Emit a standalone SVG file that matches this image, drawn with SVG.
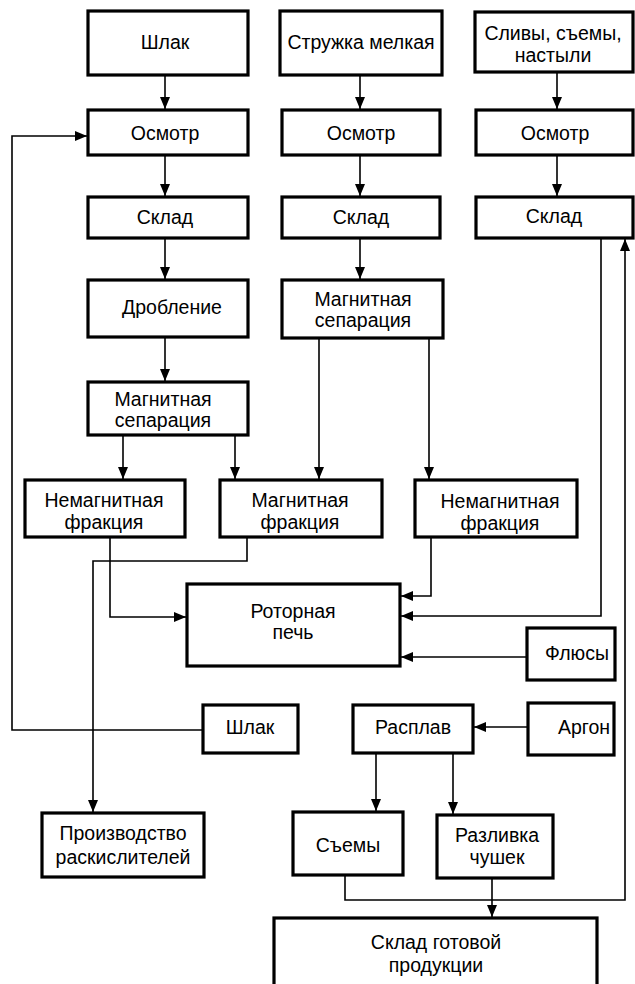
<svg xmlns="http://www.w3.org/2000/svg" width="635" height="984" viewBox="0 0 635 984">
  <style>
    .box { fill: #ffffff; stroke: #000000; stroke-width: 3.2; }
    .lbl { font-family: "Liberation Sans", Arial, sans-serif; font-size: 19.5px; fill: #000000; text-anchor: middle; }
    .wire { fill: none; stroke: #000000; stroke-width: 1.6; }
  </style>
  <defs>
    <marker id="arrow" markerUnits="userSpaceOnUse" markerWidth="12" markerHeight="10" refX="12" refY="5" orient="auto">
      <path d="M0,0 L12,5 L0,10 z" fill="#000000"/>
    </marker>
  </defs>
  <rect width="635" height="984" fill="#ffffff"/>

  <!-- connectors -->
  <g id="connectors" class="wire" marker-end="url(#arrow)">
    <path d="M165,75 V109"/>
    <path d="M360,75 V109"/>
    <path d="M557,72 V109"/>
    <path d="M165,155 V196"/>
    <path d="M360,155 V196"/>
    <path d="M557,155 V196"/>
    <path d="M165,238 V279"/>
    <path d="M360,238 V279"/>
    <path d="M165,337 V381"/>
    <path d="M123,435 V479"/>
    <path d="M235,435 V479"/>
    <path d="M319,338 V479"/>
    <path d="M429,338 V479"/>
    <path d="M110,537 V617 H186"/>
    <path d="M247,537 V561 H93 V812"/>
    <path d="M431,537 V596 H401"/>
    <path d="M601,238 V616 H401"/>
    <path d="M527,657 H401"/>
    <path d="M203,730 H12 V136 H87"/>
    <path d="M528,727 H474"/>
    <path d="M376,753 V811"/>
    <path d="M453,753 V814"/>
    <path d="M345,875 V900 H625 V239"/>
    <path d="M492,878 V917"/>
  </g>

  <!-- column 1 -->
  <g id="shlak-in"><rect class="box" x="88" y="11" width="160" height="64"/><text class="lbl" x="165" y="49">Шлак</text></g>
  <g id="osmotr-1"><rect class="box" x="88" y="110" width="160" height="45"/><text class="lbl" x="165" y="140">Осмотр</text></g>
  <g id="sklad-1"><rect class="box" x="88" y="197" width="160" height="41"/><text class="lbl" x="165" y="224">Склад</text></g>
  <g id="droblenie"><rect class="box" x="88" y="280" width="160" height="57"/><text class="lbl" x="172" y="314">Дробление</text></g>
  <g id="magsep-1"><rect class="box" x="88" y="382" width="160" height="53"/><text class="lbl" x="163" y="406">Магнитная</text><text class="lbl" x="163" y="427">сепарация</text></g>
  <g id="nemag-1"><rect class="box" x="25" y="480" width="160" height="57"/><text class="lbl" x="104" y="507">Немагнитная</text><text class="lbl" x="104" y="529">фракция</text></g>
  <g id="mag"><rect class="box" x="220" y="480" width="162" height="57"/><text class="lbl" x="300" y="507">Магнитная</text><text class="lbl" x="300" y="529">фракция</text></g>

  <!-- column 2 -->
  <g id="struzhka"><rect class="box" x="280" y="11" width="162" height="64"/><text class="lbl" x="361" y="49">Стружка мелкая</text></g>
  <g id="osmotr-2"><rect class="box" x="282" y="110" width="158" height="45"/><text class="lbl" x="361" y="140">Осмотр</text></g>
  <g id="sklad-2"><rect class="box" x="282" y="197" width="158" height="41"/><text class="lbl" x="361" y="224">Склад</text></g>
  <g id="magsep-2"><rect class="box" x="282" y="280" width="161" height="58"/><text class="lbl" x="363" y="306">Магнитная</text><text class="lbl" x="363" y="327">сепарация</text></g>
  <g id="nemag-2"><rect class="box" x="415" y="480" width="162" height="57"/><text class="lbl" x="500" y="508">Немагнитная</text><text class="lbl" x="500" y="530">фракция</text></g>

  <!-- column 3 -->
  <g id="slivy"><rect class="box" x="475" y="12" width="158" height="60"/><text class="lbl" x="553" y="40">Сливы, съемы,</text><text class="lbl" x="553" y="62">настыли</text></g>
  <g id="osmotr-3"><rect class="box" x="476" y="110" width="157" height="45"/><text class="lbl" x="555" y="140">Осмотр</text></g>
  <g id="sklad-3"><rect class="box" x="476" y="197" width="157" height="41"/><text class="lbl" x="554" y="223">Склад</text></g>

  <!-- melting and products -->
  <g id="rotor"><rect class="box" x="187" y="584" width="213" height="82"/><text class="lbl" x="293" y="618">Роторная</text><text class="lbl" x="293" y="639">печь</text></g>
  <g id="flux"><rect class="box" x="527" y="628" width="88" height="52"/><text class="lbl" x="577" y="660">Флюсы</text></g>
  <g id="shlak-out"><rect class="box" x="203" y="705" width="95" height="48"/><text class="lbl" x="250" y="734">Шлак</text></g>
  <g id="rasplav"><rect class="box" x="353" y="705" width="120" height="48"/><text class="lbl" x="413" y="734">Расплав</text></g>
  <g id="argon"><rect class="box" x="528" y="703" width="86" height="52"/><text class="lbl" x="584" y="734">Аргон</text></g>
  <g id="proizvodstvo"><rect class="box" x="42" y="813" width="162" height="64"/><text class="lbl" x="123" y="840">Производство</text><text class="lbl" x="123" y="864">раскислителей</text></g>
  <g id="syemy"><rect class="box" x="293" y="812" width="110" height="63"/><text class="lbl" x="348" y="852">Съемы</text></g>
  <g id="razlivka"><rect class="box" x="437" y="815" width="116" height="63"/><text class="lbl" x="497" y="842">Разливка</text><text class="lbl" x="497" y="864">чушек</text></g>
  <g id="sklad-gp"><rect class="box" x="274" y="918" width="323" height="80"/><text class="lbl" x="436" y="949">Склад готовой</text><text class="lbl" x="436" y="972">продукции</text></g>
</svg>
